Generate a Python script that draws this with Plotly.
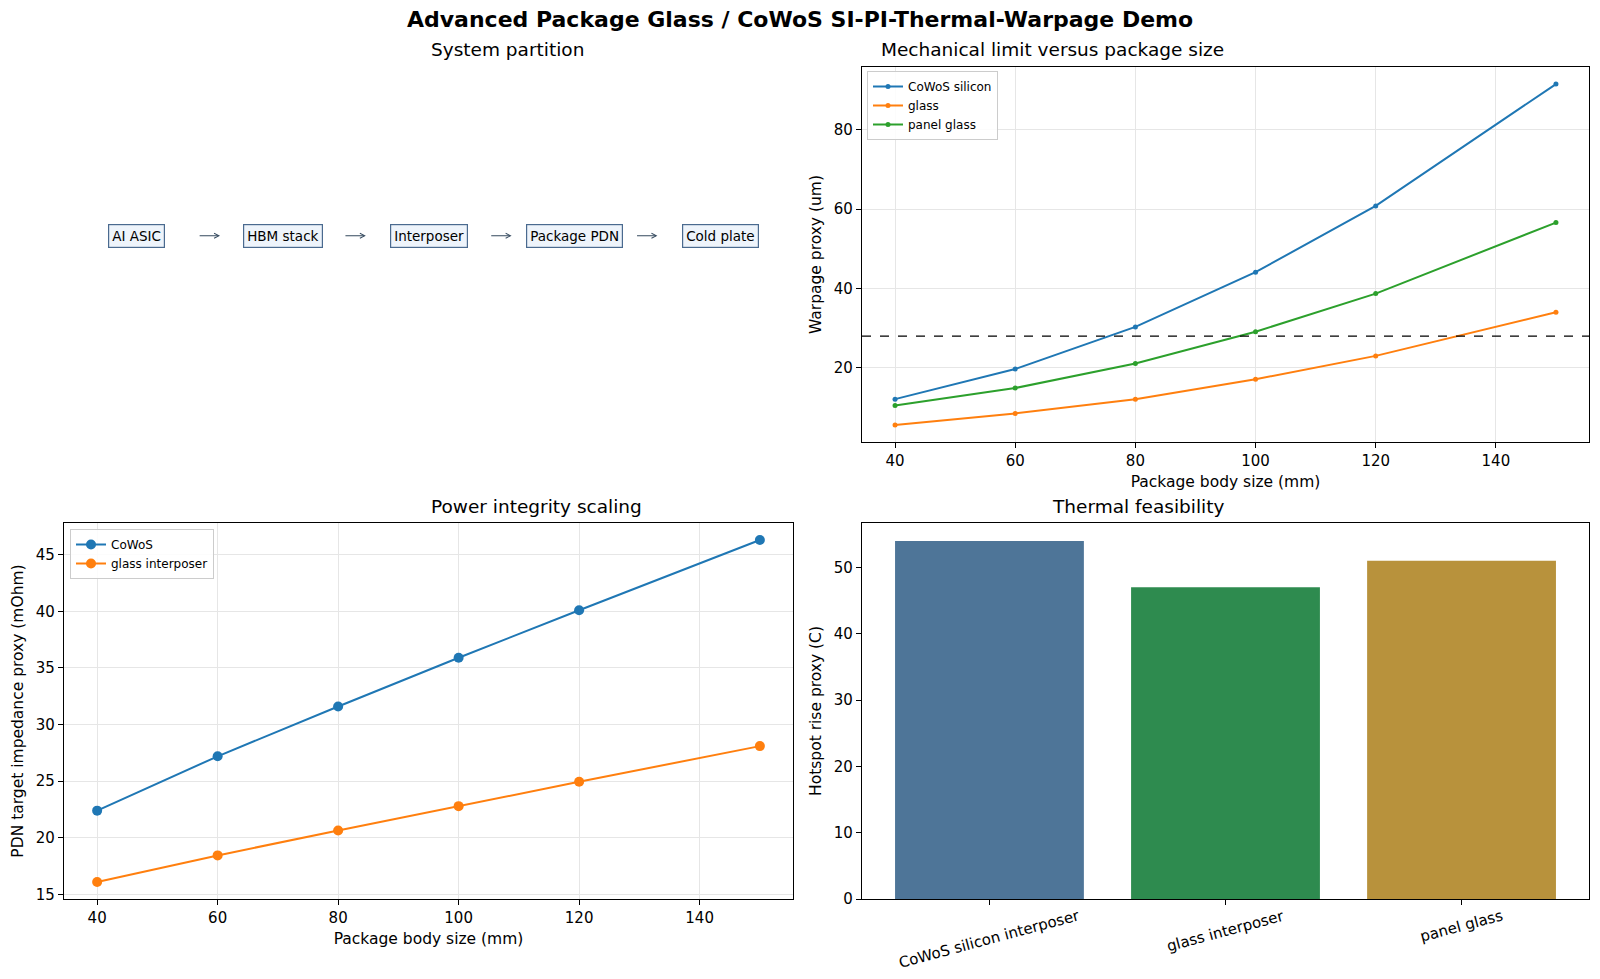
import plotly.graph_objects as go

# ---------------- data ----------------
sizes = [40, 60, 80, 100, 120, 150]
warp_cowos = [12.1, 19.7, 30.3, 44.1, 60.8, 91.5]
warp_glass = [5.6, 8.5, 12.1, 17.1, 23.0, 34.0]
warp_panel = [10.5, 14.9, 21.1, 29.1, 38.7, 56.6]
warp_limit = 28.0

pdn_cowos = [22.4, 27.2, 31.6, 35.9, 40.1, 46.3]
pdn_glass = [16.1, 18.45, 20.65, 22.8, 24.95, 28.1]

thermal_labels = ["CoWoS silicon interposer", "glass interposer", "panel glass"]
thermal_values = [54, 47, 51]

partition_blocks = ["AI ASIC", "HBM stack", "Interposer", "Package PDN", "Cold plate"]

# ---------------- styling ----------------
FONT = "DejaVu Sans"
BLUE = "#1f77b4"
ORANGE = "#ff7f0e"
GREEN = "#2ca02c"
BAR_COLORS = ["#4e7598", "#2e8b4f", "#b8923c"]
GRID = "#e6e6e6"

W, H = 1600, 979
def px_x(a, b):
    return [a / W, b / W]
def px_y(top, bottom):
    return [1 - bottom / H, 1 - top / H]

dom_left = px_x(64, 793)
dom_right = px_x(862, 1589)
dom_top = px_y(67, 442)
dom_bot = px_y(523, 899)

fig = go.Figure()

# Mechanical limit (top-right)
for name, ys, c in [("CoWoS silicon", warp_cowos, BLUE), ("glass", warp_glass, ORANGE),
                    ("panel glass", warp_panel, GREEN)]:
    fig.add_trace(go.Scatter(x=sizes, y=ys, name=name, mode="lines+markers",
                             line=dict(color=c, width=2), marker=dict(size=5, color=c),
                             xaxis="x2", yaxis="y2", legend="legend"))

# Power integrity (bottom-left)
for name, ys, c in [("CoWoS", pdn_cowos, BLUE), ("glass interposer", pdn_glass, ORANGE)]:
    fig.add_trace(go.Scatter(x=sizes, y=ys, name=name, mode="lines+markers",
                             line=dict(color=c, width=2), marker=dict(size=10, color=c),
                             xaxis="x3", yaxis="y3", legend="legend2"))

# Thermal (bottom-right)
fig.add_trace(go.Bar(x=thermal_labels, y=thermal_values, marker=dict(color=BAR_COLORS, line=dict(width=0)),
                     width=0.8, showlegend=False, xaxis="x4", yaxis="y4"))

tickfont = dict(family=FONT, size=15, color="black")
titlefont = dict(family=FONT, size=15.5, color="black")

def line_axis(domain, anchor, **kw):
    d = dict(domain=domain, anchor=anchor, showline=True, linecolor="black", linewidth=1.2,
             mirror=True, ticks="outside", ticklen=5, tickcolor="black", tickfont=tickfont,
             zeroline=False, automargin=False)
    d.update(kw)
    return d

fig.update_layout(
    width=W, height=H,
    margin=dict(l=0, r=0, t=0, b=0, autoexpand=False),
    paper_bgcolor="white", plot_bgcolor="white",
    font=dict(family=FONT, color="black"),
    xaxis=dict(domain=dom_left, anchor="y", range=[0, 1], visible=False, automargin=False),
    yaxis=dict(domain=dom_top, anchor="x", range=[0, 1], visible=False, automargin=False),
    xaxis2=line_axis(dom_right, "y2", range=[34.5, 155.5], tickvals=[40, 60, 80, 100, 120, 140],
                     showgrid=True, gridcolor=GRID,
                     title=dict(text="Package body size (mm)", font=titlefont, standoff=7)),
    yaxis2=line_axis(dom_top, "x2", range=[1.3, 95.8], tickvals=[20, 40, 60, 80],
                     showgrid=True, gridcolor=GRID,
                     title=dict(text="Warpage proxy (um)", font=titlefont, standoff=8)),
    xaxis3=line_axis(dom_left, "y3", range=[34.5, 155.5], tickvals=[40, 60, 80, 100, 120, 140],
                     showgrid=True, gridcolor=GRID,
                     title=dict(text="Package body size (mm)", font=titlefont, standoff=7)),
    yaxis3=line_axis(dom_bot, "x3", range=[14.6, 47.8], tickvals=[15, 20, 25, 30, 35, 40, 45],
                     showgrid=True, gridcolor=GRID,
                     title=dict(text="PDN target impedance proxy (mOhm)", font=titlefont, standoff=8)),
    xaxis4=line_axis(dom_right, "y4", range=[-0.54, 2.54], showgrid=False, showticklabels=False,
                     type="category"),
    yaxis4=line_axis(dom_bot, "x4", range=[0, 56.7], tickvals=[0, 10, 20, 30, 40, 50],
                     showgrid=False,
                     title=dict(text="Hotspot rise proxy (C)", font=titlefont, standoff=8)),
    legend=dict(x=867 / W, y=1 - 71 / H, xanchor="left", yanchor="top", bgcolor="rgba(255,255,255,0.85)",
                bordercolor="#cccccc", borderwidth=1, font=dict(family=FONT, size=12),
                itemwidth=30, tracegroupgap=0),
    legend2=dict(x=70 / W, y=1 - 529 / H, xanchor="left", yanchor="top", bgcolor="rgba(255,255,255,0.85)",
                 bordercolor="#cccccc", borderwidth=1, font=dict(family=FONT, size=12),
                 itemwidth=30, tracegroupgap=0),
)

# warpage limit line
fig.add_shape(type="line", xref="x2 domain", yref="y2", x0=0, x1=1, y0=warp_limit, y1=warp_limit,
              line=dict(color="black", width=1.3, dash="dash"))

anns = []
# system partition blocks
for i, name in enumerate(partition_blocks):
    xc = 0.1 + 0.2 * i
    anns.append(dict(x=xc, y=0.55, xref="x", yref="y", text=name, showarrow=False,
                     font=dict(family=FONT, size=13.5, color="black"),
                     bgcolor="#eef4fb", bordercolor="#4a6a8f", borderwidth=1.2, borderpad=3))
    if i < len(partition_blocks) - 1:
        anns.append(dict(x=xc + 0.114, y=0.55, ax=xc + 0.084, ay=0.55, xref="x", yref="y",
                         axref="x", ayref="y", text="", showarrow=True, arrowhead=5,
                         arrowsize=0.8, arrowwidth=1.2, arrowcolor="#34495e"))

# rotated category labels for the bar chart
for lab in thermal_labels:
    anns.append(dict(x=lab, y=1 - 904 / H, xref="x4", yref="paper", text=lab, showarrow=False,
                     textangle=-15, yanchor="top", xanchor="center",
                     font=dict(family=FONT, size=15, color="black")))

# titles
sub_font = dict(family=FONT, size=18.5, color="black")
anns += [
    dict(x=0.5, y=1 - 20 / H, xref="paper", yref="paper",
         text="<b>Advanced Package Glass / CoWoS SI-PI-Thermal-Warpage Demo</b>",
         showarrow=False, font=dict(family=FONT, size=22, color="black"), yanchor="middle"),
    dict(x=sum(dom_left) / 2, y=1 - 50 / H, xref="paper", yref="paper", text="System partition",
         showarrow=False, font=sub_font, yanchor="middle"),
    dict(x=sum(dom_right) / 2, y=1 - 50 / H, xref="paper", yref="paper",
         text="Mechanical limit versus package size", showarrow=False, font=sub_font, yanchor="middle"),
    dict(x=sum(dom_left) / 2, y=1 - 507 / H, xref="paper", yref="paper", text="Power integrity scaling",
         showarrow=False, font=sub_font, yanchor="middle"),
    dict(x=sum(dom_right) / 2, y=1 - 507 / H, xref="paper", yref="paper", text="Thermal feasibility",
         showarrow=False, font=sub_font, yanchor="middle"),
]
fig.update_layout(annotations=anns)

fig.write_html("out.html")
